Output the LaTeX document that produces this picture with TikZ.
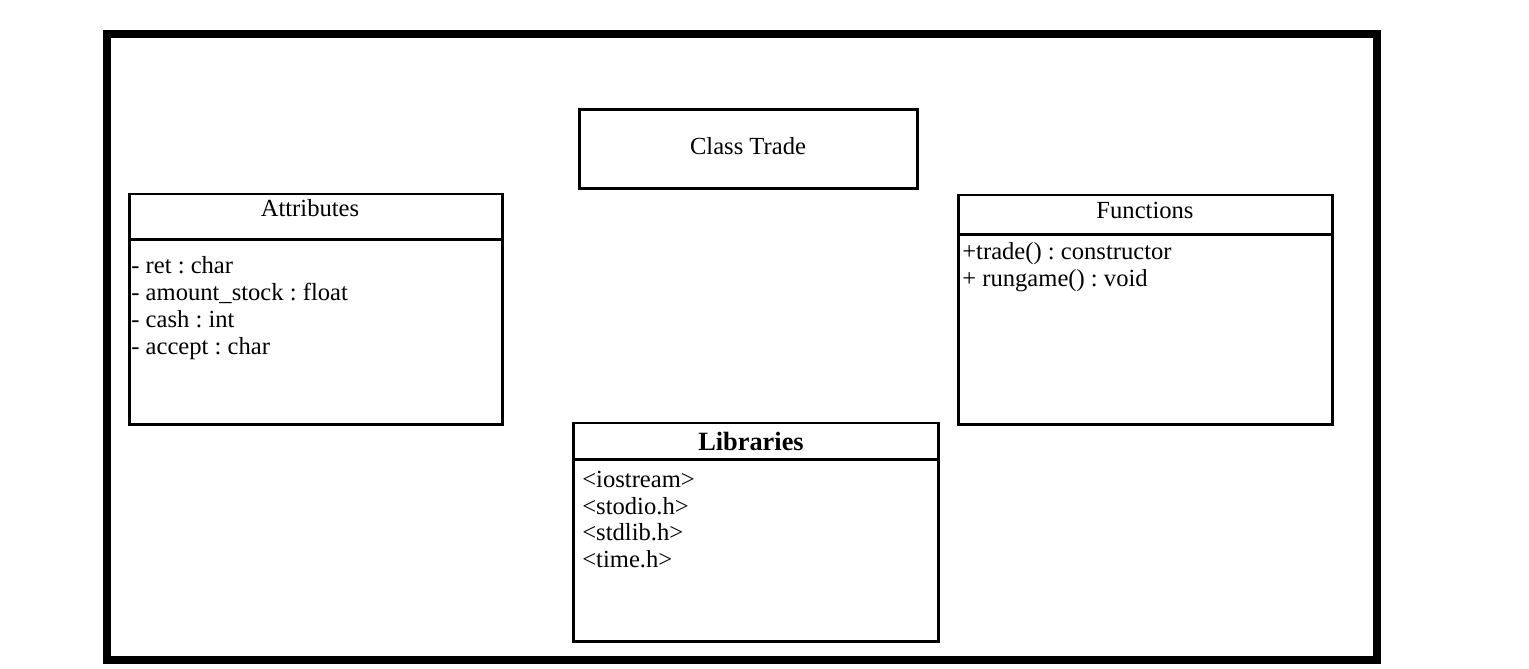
\documentclass[tikz,border=0pt]{standalone}
\usepackage{fontspec}
\setmainfont{Liberation Serif}
\usetikzlibrary{positioning}
\frenchspacing

\begin{document}
\begin{tikzpicture}[
			x=0.02cm, y=-0.02cm,
			every node/.style={font=\fontsize{14}{15.3}\selectfont, inner sep=0pt},
			box/.style={draw, line width=1.7pt},
			members/.style={anchor=north west, align=left}
		]

		\useasboundingbox (0,0) rectangle (1529,669);

		% outer frame
		\draw[line width=4.5pt] (107,34) rectangle (1377,660);

		% class name
		\node[box, minimum width=6.78cm, minimum height=1.6cm] (trade) at (748.5,149) {};
		\node (tradename) at (748,146) {Class Trade};

		% attributes
		\node[box, minimum width=7.48cm, minimum height=0.9cm] (attrhead) at (316,216.5) {};
		\node[box, minimum width=7.48cm, minimum height=3.72cm] (attrbody) at (316,332) {};
		\node (attrtitle) at (310,208) {Attributes};
		\node[members] (attrlist) at (131,256) {- ret : char\\- amount\_stock : float\\- cash : int\\- accept : char};

		% functions
		\node[box, minimum width=7.5cm, minimum height=0.78cm] (funchead) at (1145.5,214.5) {};
		\node[box, minimum width=7.5cm, minimum height=3.82cm] (funcbody) at (1145.5,329.5) {};
		\node (functitle) at (1145,210) {Functions};
		\node[members] (funclist) at (962,242) {+trade() : constructor\\+ rungame() : void};

		% libraries
		\node[box, minimum width=7.32cm, minimum height=0.72cm] (libhead) at (756,441) {};
		\node[box, minimum width=7.32cm, minimum height=3.66cm] (libbody) at (756,550.5) {};
		\node[font=\fontsize{15}{15.3}\selectfont\bfseries] (libtitle) at (751,441) {Libraries};
		\node[members] (liblist) at (582,470.5) {<iostream>\\<stodio.h>\\<stdlib.h>\\<time.h>};

	\end{tikzpicture}
\end{document}
